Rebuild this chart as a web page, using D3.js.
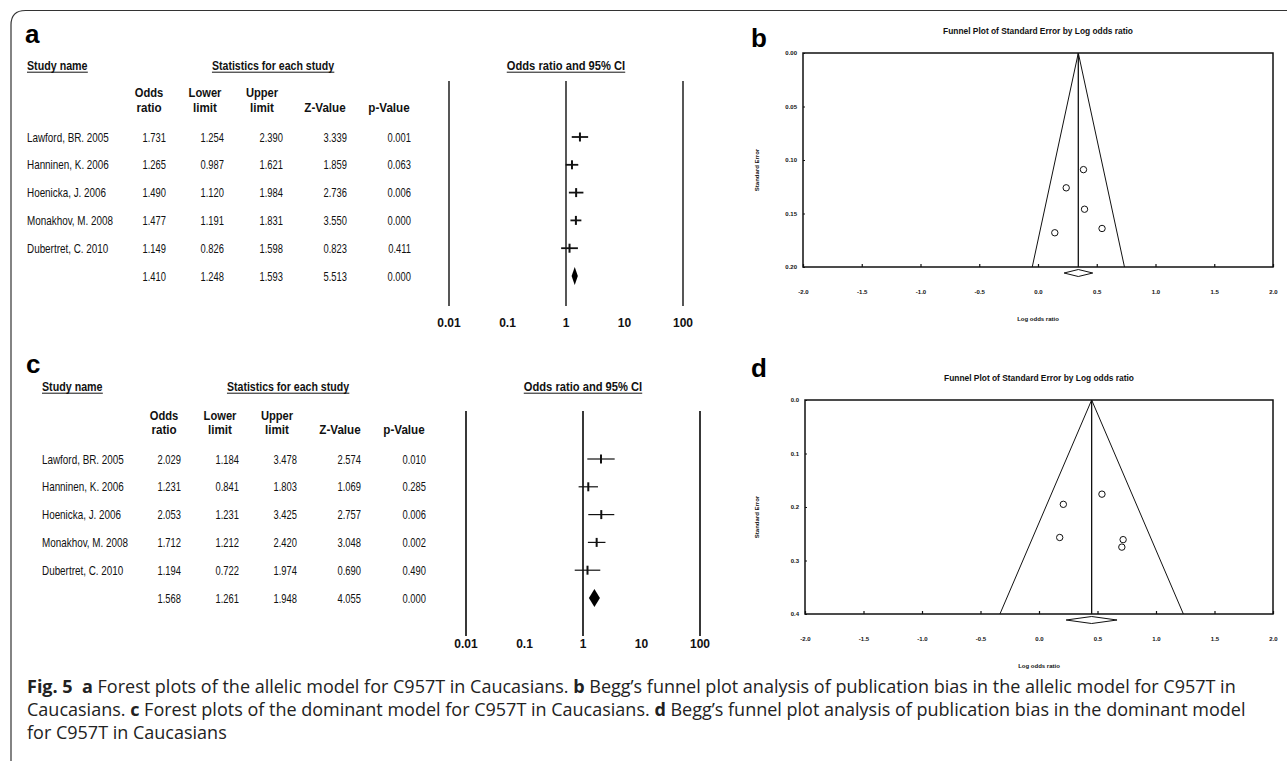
<!DOCTYPE html>
<html>
<head>
<meta charset="utf-8">
<script src="https://cdn.jsdelivr.net/npm/d3@7"></script>
<style>
  html, body { margin: 0; padding: 0; background: #fff; }
  svg { display: block; }
  .tbl { font-family: "Liberation Sans", Arial, sans-serif; font-size: 13px; fill: #111; }
  .hdr { font-weight: bold; font-size: 12px; }
  .ftick { font-family: "Liberation Sans", Arial, sans-serif; font-size: 12px; font-weight: bold; fill: #111; }
  .fun { font-family: "Liberation Sans", Arial, sans-serif; font-weight: bold; fill: #111; }
  .cap { font-family: "Open Sans", "Noto Sans", sans-serif; font-size: 18px; fill: #222; }
  .letter { font-family: "Liberation Sans", Arial, sans-serif; font-weight: bold; font-size: 26px; fill: #000; }
</style>
</head>
<body>
<svg width="1287" height="761"></svg>
<script>
// study names (same five studies in both models)
const studies = ["Lawford, BR. 2005", "Hanninen, K. 2006", "Hoenicka, J. 2006", "Monakhov, M. 2008", "Dubertret, C. 2010"];

// allelic model (panel a)
const allelicOR    = [1.731, 1.265, 1.490, 1.477, 1.149];
const allelicLower = [1.254, 0.987, 1.120, 1.191, 0.826];
const allelicUpper = [2.390, 1.621, 1.984, 1.831, 1.598];
const allelicZ     = [3.339, 1.859, 2.736, 3.550, 0.823];
const allelicP     = [0.001, 0.063, 0.006, 0.000, 0.411];
const allelicPooled = [1.410, 1.248, 1.593, 5.513, 0.000];

// dominant model (panel c)
const dominantOR    = [2.029, 1.231, 2.053, 1.712, 1.194];
const dominantLower = [1.184, 0.841, 1.231, 1.212, 0.722];
const dominantUpper = [3.478, 1.803, 3.425, 2.420, 1.974];
const dominantZ     = [2.574, 1.069, 2.757, 3.048, 0.690];
const dominantP     = [0.010, 0.285, 0.006, 0.002, 0.490];
const dominantPooled = [1.568, 1.261, 1.948, 4.055, 0.000];

// forest axis
const forestTicks = [0.01, 0.1, 1, 10, 100];
const forestLines = [0.01, 1, 100];
const forestTickLabels = ["0.01", "0.1", "1", "10", "100"];

// funnel plot b (allelic)
const funnelBLogOR = [0.545, 0.240, 0.396, 0.387, 0.143];
const funnelBSE    = [0.164, 0.126, 0.146, 0.109, 0.168];
const funnelBCenter = 0.343;
const funnelBEdges = [-0.049, 0.736];   // funnel mouth at max SE
const funnelBDiamond = [0.222, 0.466];
const funnelBYTicks = [0, 0.05, 0.10, 0.15, 0.20];

// funnel plot d (dominant)
const funnelDLogOR = [0.708, 0.208, 0.719, 0.538, 0.177];
const funnelDSE    = [0.275, 0.195, 0.261, 0.176, 0.257];
const funnelDCenter = 0.450;
const funnelDEdges = [-0.334, 1.234];
const funnelDDiamond = [0.232, 0.667];
const funnelDYTicks = [0, 0.1, 0.2, 0.3, 0.4];

const funnelXTicks = [-2, -1.5, -1, -0.5, 0, 0.5, 1, 1.5, 2];

const svg = d3.select("svg");
const fmt3 = d3.format(".3f");

// frame with rounded top-left corner
svg.append("path")
   .attr("d", "M11,761 V25 Q11,10.5 25.5,10.5 H1287")
   .attr("fill", "none")
   .attr("stroke", "#333")
   .attr("stroke-width", 1.2);

// the original uses a narrow face; squeeze the text to its width
function condense(sel, k) {
    sel.each(function() {
        const w = this.getComputedTextLength();
        d3.select(this).attr("textLength", w * k).attr("lengthAdjust", "spacingAndGlyphs");
    });
}

function underline(sel) {
    sel.each(function() {
        const b = this.getBBox();
        d3.select(this.parentNode).append("line")
          .attr("x1", b.x).attr("x2", b.x + b.width)
          .attr("y1", b.y + b.height - 1).attr("y2", b.y + b.height - 1)
          .attr("stroke", "#111").attr("stroke-width", 1);
    });
}

function drawForest(o) {
    const g = svg.append("g");
    const cols = [o.or, o.lower, o.upper, o.z, o.p];
    const rowY = i => o.row0 + i * o.rowStep;

    g.append("text").attr("class", "letter").attr("x", o.letterX).attr("y", o.letterY).text(o.letter);

    const titles = g.append("g").attr("class", "tbl hdr");
    titles.append("text").attr("x", o.nameX).attr("y", o.titleY).attr("dy", "0.35em").text("Study name")
          .call(condense, 0.89).call(underline);
    titles.append("text").attr("x", o.statsX).attr("y", o.titleY).attr("dy", "0.35em")
          .attr("text-anchor", "middle").text("Statistics for each study").call(condense, 0.88).call(underline);
    titles.append("text").attr("x", o.x(1)).attr("y", o.titleY).attr("dy", "0.35em")
          .attr("text-anchor", "middle").text("Odds ratio and 95% CI").call(condense, 0.93).call(underline);

    // column headers
    const hdr1 = ["Odds", "Lower", "Upper", "", ""];
    const hdr2 = ["ratio", "limit", "limit", "Z-Value", "p-Value"];
    const hg = g.append("g").attr("class", "tbl hdr").attr("text-anchor", "middle");
    hg.selectAll(".h1").data(hdr1).enter().append("text")
      .attr("x", (d, i) => o.hdrX[i]).attr("y", o.hdrY1).attr("dy", "0.35em").text(d => d)
      .filter(d => d).call(condense, 0.93);
    hg.selectAll(".h2").data(hdr2).enter().append("text")
      .attr("x", (d, i) => o.hdrX[i]).attr("y", o.hdrY2).attr("dy", "0.35em").text(d => d)
      .call(condense, 0.97);

    // study rows
    const tg = g.append("g").attr("class", "tbl");
    tg.selectAll(".nm").data(studies).enter().append("text")
      .attr("x", o.nameX).attr("y", (d, i) => rowY(i)).attr("dy", "0.35em").text(d => d)
      .call(condense, 0.76);
    cols.forEach((col, c) => {
        tg.selectAll(".c" + c).data(col.concat([o.pooled[c]])).enter().append("text")
          .attr("x", o.colX[c]).attr("y", (d, i) => rowY(i)).attr("dy", "0.35em")
          .attr("text-anchor", "end").text(d => fmt3(d))
          .call(condense, 0.72);
    });

    // vertical reference lines and tick labels
    g.selectAll(".vl").data(forestLines).enter().append("line")
     .attr("x1", d => o.x(d)).attr("x2", d => o.x(d))
     .attr("y1", o.lineTop).attr("y2", o.lineBottom)
     .attr("stroke", o.lineColor).attr("stroke-width", 1.8);
    g.selectAll(".ft").data(forestTicks).enter().append("text")
     .attr("class", "ftick").attr("text-anchor", "middle")
     .attr("x", d => o.x(d)).attr("y", o.tickY).attr("dy", "0.35em")
     .text((d, i) => forestTickLabels[i]);

    // confidence intervals
    g.selectAll(".ci").data(o.or).enter().append("line")
     .attr("x1", (d, i) => o.x(o.lower[i])).attr("x2", (d, i) => o.x(o.upper[i]))
     .attr("y1", (d, i) => rowY(i)).attr("y2", (d, i) => rowY(i))
     .attr("stroke", "#111").attr("stroke-width", o.ciWidth);
    g.selectAll(".pt").data(o.or).enter().append("line")
     .attr("x1", d => o.x(d)).attr("x2", d => o.x(d))
     .attr("y1", (d, i) => rowY(i) - 4.5).attr("y2", (d, i) => rowY(i) + 4.5)
     .attr("stroke", "#111").attr("stroke-width", 2);

    // pooled diamond
    const py = rowY(studies.length);
    const p = o.pooled;
    g.append("path")
     .attr("d", `M${o.x(p[1])},${py} L${o.x(p[0])},${py - 9} L${o.x(p[2])},${py} L${o.x(p[0])},${py + 9} Z`)
     .attr("fill", "#000");
}

drawForest({
    letter: "a", letterX: 25, letterY: 43,
    or: allelicOR, lower: allelicLower, upper: allelicUpper, z: allelicZ, p: allelicP, pooled: allelicPooled,
    x: d3.scaleLog().domain([0.01, 100]).range([449, 683]),
    nameX: 27, statsX: 273, titleY: 66,
    hdrX: [149, 205, 262, 325, 389], hdrY1: 93, hdrY2: 108,
    colX: [166, 224, 283, 347, 411],
    row0: 137, rowStep: 27.8,
    lineTop: 81, lineBottom: 306, tickY: 323, lineColor: "#444", ciWidth: 1.8
});

drawForest({
    letter: "c", letterX: 26, letterY: 373,
    or: dominantOR, lower: dominantLower, upper: dominantUpper, z: dominantZ, p: dominantP, pooled: dominantPooled,
    x: d3.scaleLog().domain([0.01, 100]).range([466, 700]),
    nameX: 42, statsX: 288, titleY: 387,
    hdrX: [164, 220, 277, 340, 404], hdrY1: 416, hdrY2: 430,
    colX: [181, 239, 297, 361, 426],
    row0: 459, rowStep: 27.8,
    lineTop: 411, lineBottom: 636, tickY: 644, lineColor: "#222", ciWidth: 1.2
});

function drawFunnel(o) {
    const g = svg.append("g");
    const x = d3.scaleLinear().domain([-2, 2]).range([o.x0, o.x1]);
    const y = d3.scaleLinear().domain([0, o.yMax]).range([o.y0, o.y1]);

    g.append("text").attr("class", "letter").attr("x", 751).attr("y", o.letterY).text(o.letter);

    g.append("text").attr("class", "fun").attr("font-size", 8.4)
     .attr("x", (o.x0 + o.x1) / 2).attr("y", o.y0 - 22).attr("dy", "0.35em")
     .attr("text-anchor", "middle").text("Funnel Plot of Standard Error by Log odds ratio");

    g.append("rect").attr("x", o.x0).attr("y", o.y0)
     .attr("width", o.x1 - o.x0).attr("height", o.y1 - o.y0)
     .attr("fill", "none").attr("stroke", "#111").attr("stroke-width", 1.5);

    const xa = g.append("g").attr("transform", `translate(0,${o.y1})`)
     .call(d3.axisBottom(x).tickValues(funnelXTicks).tickFormat(d => d.toFixed(1))
           .tickSizeInner(-3).tickSizeOuter(0).tickPadding(23));
    const ya = g.append("g").attr("transform", `translate(${o.x0},0)`)
     .call(d3.axisLeft(y).tickValues(o.yTicks).tickFormat(d => d.toFixed(o.yDigits))
           .tickSizeInner(-2).tickSizeOuter(0).tickPadding(6));
    [xa, ya].forEach(a => {
        a.select(".domain").remove();
        a.selectAll("text").attr("class", "fun").attr("font-size", 6).attr("fill", "#111");
        a.selectAll("line").attr("stroke", "#111").attr("stroke-width", 1.2);
    });

    g.append("text").attr("class", "fun").attr("font-size", 6)
     .attr("x", (o.x0 + o.x1) / 2).attr("y", o.y1 + 52).attr("dy", "0.35em")
     .attr("text-anchor", "middle").text("Log odds ratio");
    g.append("text").attr("class", "fun").attr("font-size", 6)
     .attr("transform", `translate(759,${(o.y0 + o.y1) / 2 + 10}) rotate(-90)`)
     .attr("text-anchor", "middle").text("Standard Error");

    // funnel
    g.append("path")
     .attr("d", d3.line()([[x(o.edges[0]), y(o.yMax)], [x(o.center), y(0)], [x(o.edges[1]), y(o.yMax)]]))
     .attr("fill", "none").attr("stroke", "#111").attr("stroke-width", 1);
    g.append("line").attr("x1", x(o.center)).attr("x2", x(o.center))
     .attr("y1", y(0)).attr("y2", y(o.yMax)).attr("stroke", "#111").attr("stroke-width", 1.3);

    // studies
    g.selectAll(".st").data(o.logOR).enter().append("circle")
     .attr("cx", d => x(d)).attr("cy", (d, i) => y(o.se[i])).attr("r", 3.2)
     .attr("fill", "#fff").attr("stroke", "#111").attr("stroke-width", 1);

    // combined effect diamond
    const dy = o.y1 + 6;
    g.append("path")
     .attr("d", `M${x(o.diamond[0])},${dy} L${x(o.center)},${dy - 3.5} L${x(o.diamond[1])},${dy} L${x(o.center)},${dy + 3.5} Z`)
     .attr("fill", "#fff").attr("stroke", "#111").attr("stroke-width", 1);
}

drawFunnel({
    letter: "b", letterY: 47,
    x0: 803, x1: 1273, y0: 53, y1: 267, yMax: 0.2, yTicks: funnelBYTicks, yDigits: 2,
    logOR: funnelBLogOR, se: funnelBSE, center: funnelBCenter, edges: funnelBEdges, diamond: funnelBDiamond
});

drawFunnel({
    letter: "d", letterY: 377,
    x0: 805, x1: 1273, y0: 400, y1: 614, yMax: 0.4, yTicks: funnelDYTicks, yDigits: 1,
    logOR: funnelDLogOR, se: funnelDSE, center: funnelDCenter, edges: funnelDEdges, diamond: funnelDDiamond
});

// caption
const captionLines = [
    [["Fig. 5", true], ["\u00a0 ", false], ["a", true], [" Forest plots of the allelic model for C957T in Caucasians. ", false], ["b", true],
     [" Begg\u2019s funnel plot analysis of publication bias in the allelic model for C957T in", false]],
    [["Caucasians. ", false], ["c", true], [" Forest plots of the dominant model for C957T in Caucasians. ", false], ["d", true],
     [" Begg\u2019s funnel plot analysis of publication bias in the dominant model", false]],
    [["for C957T in Caucasians", false]]
];
const captionY = [693, 716, 739];
const cap = svg.append("g").attr("class", "cap");
captionLines.forEach((parts, li) => {
    const t = cap.append("text").attr("x", 27).attr("y", captionY[li]);
    t.selectAll("tspan").data(parts).enter().append("tspan")
     .attr("font-weight", d => d[1] ? "bold" : null)
     .text(d => d[0]);
});
</script>
</body>
</html>
